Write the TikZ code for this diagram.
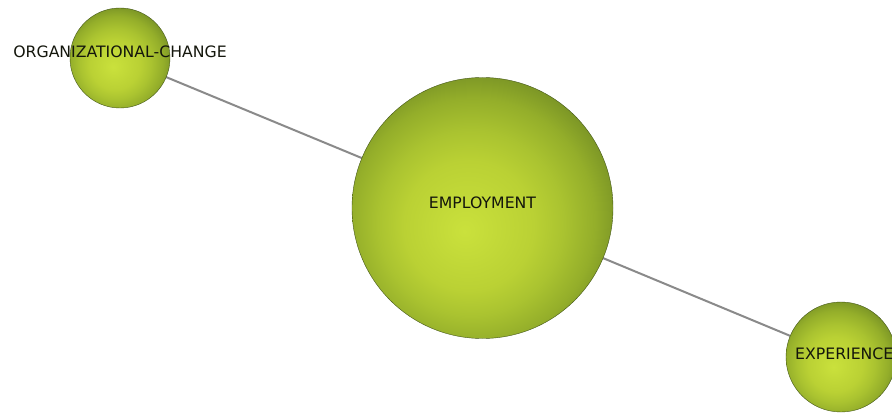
\documentclass[tikz,border=0pt]{standalone}
\usepackage{fontspec}
\setmainfont{DejaVu Sans}
\definecolor{hl}{RGB}{202,225,60}
\definecolor{hltwo}{RGB}{186,209,52}
\definecolor{hlthree}{RGB}{170,195,48}
\definecolor{midc}{RGB}{148,174,42}
\definecolor{darkc}{RGB}{114,140,36}
\definecolor{rimc}{RGB}{80,102,28}
\definecolor{edgec}{RGB}{138,138,138}
\definecolor{txtc}{RGB}{20,22,12}
\pgfdeclareradialshading{sphere}{\pgfpoint{-3.5bp}{-4.5bp}}{%
 color(0bp)=(hl); color(12.4bp)=(hltwo); color(17.7bp)=(hlthree); color(23.4bp)=(midc); color(29.4bp)=(darkc); color(35.4bp)=(rimc); color(50bp)=(rimc)}
\tikzset{
 bubble/.style={circle, inner sep=0pt, shading=sphere, draw=rimc!85!black, line width=0.4pt},
 lbl/.style={font=\fontsize{15.7}{18}\selectfont, text=txtc, inner sep=0pt},
 link/.style={draw=edgec, line width=2pt}
}
\begin{document}
\begin{tikzpicture}[x=1pt,y=-1pt]
\useasboundingbox (0,0) rectangle (892,414);
\clip (0,0) rectangle (892,414);
\fill[white] (0,0) rectangle (892,414);
\coordinate (corg) at (120,58);
\coordinate (cemp) at (482.5,208);
\coordinate (cexp) at (841,357);
\draw[link] (corg) -- (cemp);
\draw[link] (cemp) -- (cexp);
\node[bubble, minimum size=100pt] (org) at (corg) {};
\node[bubble, minimum size=261pt] (emp) at (cemp) {};
\node[bubble, minimum size=110pt] (exp) at (cexp) {};
\node[lbl] (torg) at (120,52) {ORGANIZATIONAL-CHANGE};
\node[lbl] (temp) at (482.5,203) {EMPLOYMENT};
\node[lbl, anchor=west] (texp) at (795,354) {EXPERIENCE};
\end{tikzpicture}
\end{document}
